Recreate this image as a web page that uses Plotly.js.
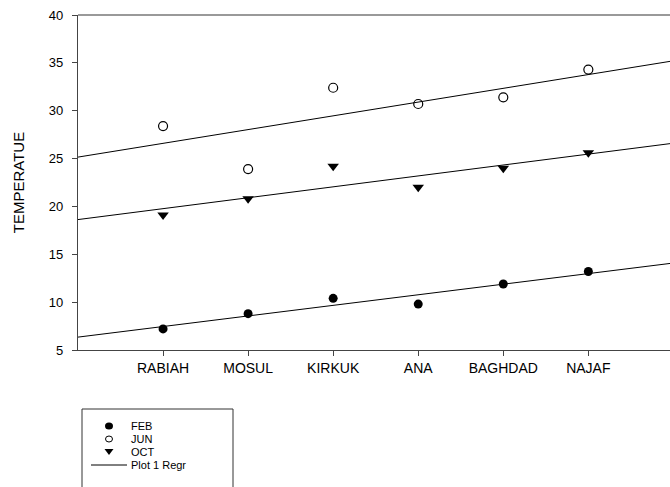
<!DOCTYPE html>
<html><head><meta charset="utf-8">
<script src="https://cdn.plot.ly/plotly-3.0.1.min.js"></script>
<style>html,body{margin:0;padding:0;background:#fff;}#chart{width:670px;height:487px;}</style>
</head><body><div id="chart"></div>
<script>
// ---- data ----
const stations = ["RABIAH", "MOSUL", "KIRKUK", "ANA", "BAGHDAD", "NAJAF"];
const stationPos = [1, 2, 3, 4, 5, 6];
const feb = [7.2, 8.8, 10.4, 9.8, 11.9, 13.2];
const jun = [28.4, 23.9, 32.4, 30.7, 31.4, 34.3];
const oct = [19.1, 20.8, 24.2, 22.0, 24.0, 25.6];
const yTicks = [5, 10, 15, 20, 25, 30, 35, 40];
const legendLabels = ["FEB", "JUN", "OCT", "Plot 1 Regr"];
const yTitle = "TEMPERATUE";

// ---- layout constants ----
const FONT = "Liberation Sans, Arial, sans-serif";
const XR = [0, 6.96];
const YR = [5, 40];
const L = 78, T = 15, W = 592, H = 335;
const px = x => (x - L) / W;
const py = y => (T + H - y) / H;

function fit(xs, ys) {
  const n = xs.length;
  const mx = xs.reduce((a, b) => a + b, 0) / n;
  const my = ys.reduce((a, b) => a + b, 0) / n;
  let sxy = 0, sxx = 0;
  for (let i = 0; i < n; i++) { sxy += (xs[i] - mx) * (ys[i] - my); sxx += (xs[i] - mx) ** 2; }
  const b = sxy / sxx, a = my - b * mx;
  return x => a + b * x;
}

const regLine = (ys) => {
  const f = fit(stationPos, ys);
  return { x: XR.slice(), y: XR.map(f), mode: "lines", type: "scatter",
           line: { color: "#000", width: 1 }, hoverinfo: "skip" };
};

const traces = [
  regLine(feb), regLine(jun), regLine(oct),
  { x: stationPos, y: feb, mode: "markers", type: "scatter", name: legendLabels[0],
    marker: { symbol: "circle", size: 9, color: "#000" } },
  { x: stationPos, y: jun, mode: "markers", type: "scatter", name: legendLabels[1],
    marker: { symbol: "circle-open", size: 9, color: "#000", line: { width: 1.2, color: "#000" } } },
  { x: stationPos, y: oct, mode: "markers", type: "scatter", name: legendLabels[2],
    marker: { symbol: "triangle-down", size: 10, color: "#000" } }
];

const legY = [426, 439, 452, 465];
const shapes = [
  { type: "line", xref: "paper", yref: "paper", x0: 0, x1: 1, y0: 1, y1: 1,
    line: { color: "#777", width: 1.5 } },
  { type: "rect", xref: "paper", yref: "paper", x0: px(82), x1: px(233), y0: py(540), y1: py(409),
    line: { color: "#333", width: 1 }, fillcolor: "rgba(0,0,0,0)" },
  { type: "circle", xref: "paper", yref: "paper", xsizemode: "pixel", ysizemode: "pixel",
    xanchor: px(109), yanchor: py(legY[0]), x0: -4, x1: 4, y0: -3.5, y1: 3.5,
    fillcolor: "#000", line: { width: 0 } },
  { type: "circle", xref: "paper", yref: "paper", xsizemode: "pixel", ysizemode: "pixel",
    xanchor: px(109), yanchor: py(legY[1]), x0: -3.5, x1: 3.5, y0: -3, y1: 3,
    fillcolor: "rgba(0,0,0,0)", line: { width: 1, color: "#000" } },
  { type: "path", xref: "paper", yref: "paper", xsizemode: "pixel", ysizemode: "pixel",
    xanchor: px(109), yanchor: py(legY[2]), path: "M-4.5,3L4.5,3L0,-3Z",
    fillcolor: "#000", line: { width: 0 } },
  { type: "line", xref: "paper", yref: "paper", x0: px(91), x1: px(127), y0: py(legY[3]), y1: py(legY[3]),
    line: { color: "#000", width: 1 } }
];

const annotations = legendLabels.map((t, i) => ({
  text: t, xref: "paper", yref: "paper", x: px(130), y: py(legY[i]),
  xanchor: "left", yanchor: "middle", showarrow: false, borderpad: 0,
  font: { family: FONT, size: 11, color: "#000" }
}));

const layout = {
  width: 670, height: 487,
  margin: { l: L, r: 670 - L - W, t: T, b: 487 - T - H, pad: 0 },
  paper_bgcolor: "#fff", plot_bgcolor: "#fff",
  showlegend: false,
  font: { family: FONT, color: "#000" },
  xaxis: {
    range: XR, tickvals: stationPos, ticktext: stations,
    ticks: "outside", ticklen: 5, tickcolor: "#444", tickwidth: 1,
    showline: true, linecolor: "#444", linewidth: 1.2,
    showgrid: false, zeroline: false,
    tickfont: { family: FONT, size: 14, color: "#000" }
  },
  yaxis: {
    range: YR, tickvals: yTicks,
    ticks: "outside", ticklen: 5, tickcolor: "#444", tickwidth: 1,
    showline: true, linecolor: "#444", linewidth: 1.2,
    showgrid: false, zeroline: false,
    tickfont: { family: FONT, size: 13, color: "#000" },
    ticklabelstandoff: 6,
    title: { text: yTitle, font: { family: FONT, size: 15, color: "#000" }, standoff: 20 }
  },
  shapes: shapes,
  annotations: annotations
};

Plotly.newPlot("chart", traces, layout, { displayModeBar: false, staticPlot: true });
</script>
</body></html>
